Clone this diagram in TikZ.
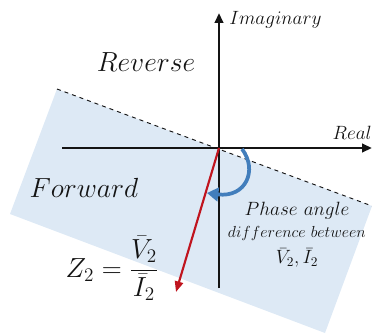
\documentclass[tikz,border=0pt]{standalone}
\usetikzlibrary{arrows.meta}
\definecolor{zone}{RGB}{221,233,245}
\definecolor{vect}{RGB}{192,20,30}
\definecolor{arcblue}{RGB}{66,126,188}
\definecolor{ink}{RGB}{20,20,20}
\tikzset{
  axis/.style={line width=2pt,draw=ink,-{Triangle[length=2.6mm,width=2.2mm]}},
  lbl/.style={font=#1,text=ink,inner sep=0pt},
  lbl/.default=\large,
}
\begin{document}
\begin{tikzpicture}[x=0.75pt,y=-0.75pt]
  \useasboundingbox (0,0) rectangle (372,333);
  % forward region and boundary
  \fill[zone] (57,89) -- (372,206) -- (325,333) -- (10,214) -- cycle;
  \draw[dashed,line width=0.7pt,ink] (57,89) -- (372,206);
  % axes
  \coordinate (o) at (219,148);
  \coordinate (xl) at (62,148);
  \coordinate (xr) at (372,148);
  \coordinate (yb) at (219,288);
  \coordinate (yt) at (219,13);
  \draw[axis] (xl) -- (xr);
  \draw[axis] (yb) -- (yt);
  % impedance vector and angle
  \coordinate (z) at (176,292);
  \draw[line width=1.6pt,vect,-{Triangle[length=2.8mm,width=2.2mm]}] (o) -- (z);
  \coordinate (a0) at (242,149);
  \coordinate (a1) at (207,193);
  \draw[line width=2.8pt,arcblue,-{Triangle[length=3mm,width=3.6mm]}]
    (a0) .. controls (258,170) and (246,198) .. (a1);
  % labels
  \node[lbl=\Large, anchor=west] (imag) at (229,20) {$Imaginary$};
  \node[lbl=\Large, anchor=east] (real) at (372,133) {$Real$};
  \node[lbl=\huge] (rev) at (146,62) {$Reverse$};
  \node[lbl=\huge] (fwd) at (84,188) {$Forward$};
  \node[lbl=\Large] (ph1) at (297,211) {$Phase\ angle$};
  \node[lbl=\large] (ph2) at (297,233) {$difference\ between$};
  \node[lbl=\Large] (ph3) at (297,258) {$\bar{V}_2,\bar{I}_2$};
  \node[lbl=\huge] (imp) at (112,268) {$Z_2=\displaystyle\frac{\bar{V}_2}{\bar{I}_2}$};
\end{tikzpicture}
\end{document}
